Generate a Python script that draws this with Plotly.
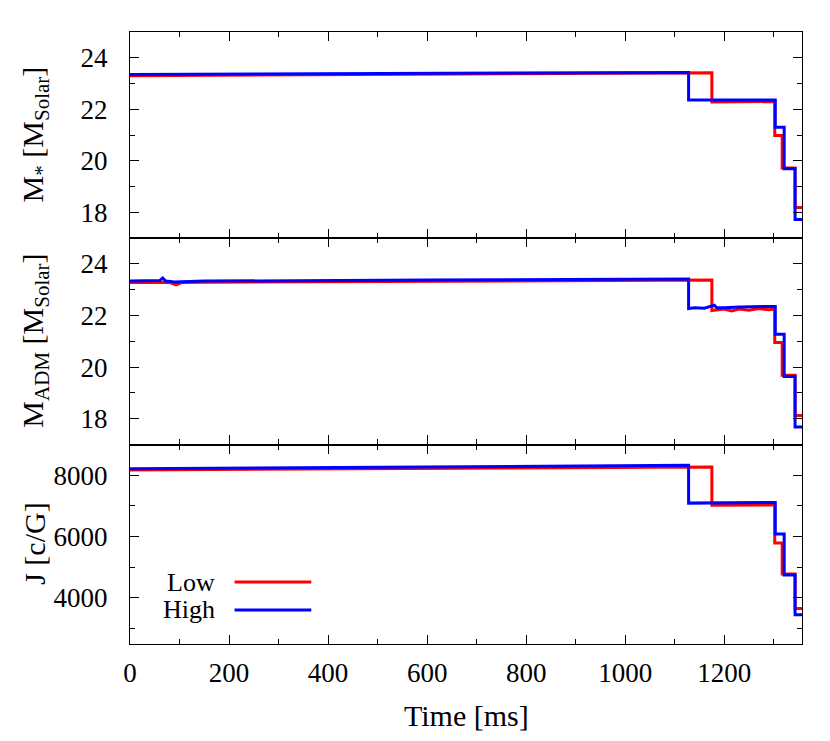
import plotly.graph_objects as go
from plotly.subplots import make_subplots

# Time [ms] and values (Low = red, High = blue)
mstar_low_t = [0, 600, 1175, 1175, 1302, 1302, 1317, 1317, 1343, 1343, 1357]
mstar_low_v = [23.30, 23.36, 23.42, 22.28, 22.30, 20.98, 20.98, 19.72, 19.72, 18.18, 18.18]
mstar_high_t = [0, 600, 1128, 1128, 1303, 1303, 1321, 1321, 1343, 1343, 1357]
mstar_high_v = [23.35, 23.39, 23.43, 22.36, 22.36, 21.30, 21.30, 19.69, 19.69, 17.72, 17.72]

madm_low_t = [0, 80, 93, 105, 150, 600, 1175, 1175, 1200, 1215, 1230, 1250, 1270, 1290,
              1302, 1302, 1317, 1317, 1343, 1343, 1357]
madm_low_v = [23.28, 23.28, 23.18, 23.28, 23.29, 23.33, 23.37, 22.19, 22.25, 22.17, 22.25,
              22.20, 22.27, 22.22, 22.25, 20.95, 20.95, 19.68, 19.68, 18.12, 18.12]
madm_high_t = [0, 40, 60, 66, 72, 90, 150, 600, 1128, 1128, 1140, 1160, 1180, 1185, 1200,
               1230, 1260, 1303, 1303, 1321, 1321, 1343, 1343, 1357]
madm_high_v = [23.33, 23.33, 23.35, 23.45, 23.33, 23.30, 23.33, 23.37, 23.41, 22.27, 22.30,
               22.28, 22.40, 22.30, 22.30, 22.33, 22.33, 22.35, 21.27, 21.27, 19.63, 19.63,
               17.68, 17.68]

j_low_t = [0, 600, 1175, 1175, 1302, 1302, 1317, 1317, 1343, 1343, 1357]
j_low_v = [8170, 8220, 8270, 7020, 7030, 5790, 5790, 4780, 4780, 3660, 3660]
j_high_t = [0, 600, 1128, 1128, 1303, 1303, 1321, 1321, 1343, 1343, 1357]
j_high_v = [8210, 8270, 8320, 7090, 7110, 6080, 6080, 4750, 4750, 3450, 3450]

RED = "#ff0000"
BLUE = "#0000ff"
FONT = "Liberation Serif, Times New Roman, serif"

fig = make_subplots(rows=3, cols=1, shared_xaxes=True, vertical_spacing=0,
                    row_heights=[206, 206.5, 199.5])

panels = [
    (1, mstar_low_t, mstar_low_v, mstar_high_t, mstar_high_v),
    (2, madm_low_t, madm_low_v, madm_high_t, madm_high_v),
    (3, j_low_t, j_low_v, j_high_t, j_high_v),
]
for row, lt, lv, ht, hv in panels:
    fig.add_trace(go.Scatter(x=lt, y=lv, mode="lines", name="Low",
                             line=dict(color=RED, width=3), showlegend=False),
                  row=row, col=1)
    fig.add_trace(go.Scatter(x=ht, y=hv, mode="lines", name="High",
                             line=dict(color=BLUE, width=3), showlegend=False),
                  row=row, col=1)

axis_style = dict(
    showline=True, linecolor="black", linewidth=1.2, mirror="allticks",
    ticks="inside", ticklen=9, tickwidth=1.2, tickcolor="black",
    showgrid=False, zeroline=False,
    tickfont=dict(family=FONT, size=27, color="black"),
)
for row in (1, 2, 3):
    fig.update_xaxes(range=[0, 1357], dtick=200, tick0=0,
                     minor=dict(dtick=100, ticks="inside", ticklen=5, tickcolor="black"),
                     ticklabelstandoff=4, row=row, col=1, **axis_style)
fig.update_xaxes(showticklabels=False, row=1, col=1)
fig.update_xaxes(showticklabels=False, row=2, col=1)

for row in (1, 2):
    fig.update_yaxes(range=[17, 25], dtick=2, tick0=0,
                     minor=dict(dtick=1, ticks="inside", ticklen=5, tickcolor="black"),
                     ticklabelstandoff=16, row=row, col=1, **axis_style)
fig.update_yaxes(range=[2500, 9000], dtick=2000, tick0=0,
                 minor=dict(dtick=1000, ticks="inside", ticklen=5, tickcolor="black"),
                 ticklabelstandoff=16, row=3, col=1, **axis_style)

title_font = dict(family=FONT, size=30, color="black")
y_titles = [
    ("M<sub>*</sub> [M<sub>Solar</sub>]", 0.832),
    ("M<sub>ADM</sub> [M<sub>Solar</sub>]", 0.495),
    ("J [c/G]", 0.163),
]
for text, ypos in y_titles:
    fig.add_annotation(text=text, xref="paper", yref="paper", x=-0.142, y=ypos,
                       xanchor="center", yanchor="middle", textangle=-90,
                       showarrow=False, font=title_font)
fig.add_annotation(text="Time [ms]", xref="paper", yref="paper", x=0.5, y=-0.1176,
                   xanchor="center", yanchor="middle", showarrow=False, font=title_font)

# hand-placed key: label on the left, line sample on the right
legend_font = dict(family=FONT, size=26, color="black")
for label, color, ypos in [("Low", RED, 0.1013), ("High", BLUE, 0.0556)]:
    fig.add_annotation(text=label, xref="paper", yref="paper", x=0.1288, y=ypos,
                       xanchor="right", yanchor="middle", showarrow=False, font=legend_font)
    fig.add_shape(type="line", xref="paper", yref="paper", x0=0.1556, x1=0.2698,
                  y0=ypos, y1=ypos, line=dict(color=color, width=3))

# page body adds an 8px offset, margins compensate
fig.update_layout(
    width=830, height=741,
    margin=dict(l=122, r=36, t=24, b=105),
    plot_bgcolor="white", paper_bgcolor="white",
    font=dict(family=FONT, color="black"),
    showlegend=False,
)

fig.write_html("out.html")
